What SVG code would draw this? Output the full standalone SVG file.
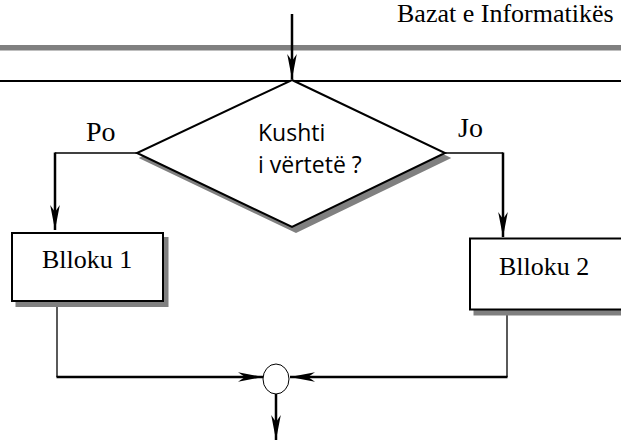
<svg xmlns="http://www.w3.org/2000/svg" width="621" height="441" viewBox="0 0 621 441">
  <style>
    .serif { font-family: "Liberation Serif", "Times New Roman", serif; fill: #000; }
    .sans { font-family: "Open Sans", "Liberation Sans", sans-serif; fill: #000; }
    .shape { fill: #fff; stroke: #000; stroke-width: 2; }
    .shadow { fill: #808080; stroke: #808080; stroke-width: 2; }
    .thick { stroke: #000; stroke-width: 2.5; fill: none; }
    .thin { stroke: #000; stroke-width: 1.3; fill: none; }
  </style>
  <defs>
    <marker id="arrow" markerUnits="userSpaceOnUse" viewBox="-27 -6 28 12" refX="0" refY="0" markerWidth="28" markerHeight="12" orient="auto">
      <path d="M0,0 L-25,-4.8 L-18,0 L-25,4.8 Z" fill="#000"/>
    </marker>
  </defs>
  <rect width="621" height="441" fill="#fff"/>

  <g id="header">
    <text class="serif" x="397" y="22" font-size="26">Bazat e Informatikës</text>
    <rect x="0" y="45" width="621" height="5.5" fill="#808080"/>
    <rect x="0" y="80" width="621" height="2" fill="#000"/>
  </g>

  <g id="connectors">
    <line class="thick" x1="292" y1="14" x2="292" y2="79" marker-end="url(#arrow)"/>
    <line class="thin" x1="137" y1="153" x2="55" y2="153"/>
    <line class="thick" x1="55" y1="152.5" x2="55" y2="230" marker-end="url(#arrow)"/>
    <line class="thin" x1="445" y1="153" x2="503" y2="153"/>
    <line class="thick" x1="503" y1="152.5" x2="503" y2="237" marker-end="url(#arrow)"/>
    <line class="thin" x1="57" y1="302" x2="57" y2="377"/>
    <line class="thick" x1="56.5" y1="377" x2="263" y2="377" marker-end="url(#arrow)"/>
    <line class="thin" x1="507" y1="311" x2="507" y2="377"/>
    <line class="thick" x1="507.5" y1="377" x2="290" y2="377" marker-end="url(#arrow)"/>
    <line class="thick" x1="276" y1="394" x2="276" y2="440" marker-end="url(#arrow)"/>
  </g>

  <g id="decision">
    <polygon class="shadow" points="296,85 449,158 296,232 141,158"/>
    <polygon class="shape" points="292,80 445,153 292,227 137,153"/>
    <text class="sans" x="258" y="141" font-size="23">Kushti</text>
    <text class="sans" x="258" y="173" font-size="23">i vërtetë ?</text>
  </g>

  <g id="label-po">
    <text class="serif" x="86" y="141" font-size="28">Po</text>
  </g>
  <g id="label-jo">
    <text class="serif" x="458" y="137" font-size="28">Jo</text>
  </g>

  <g id="blloku1">
    <rect class="shadow" x="16.5" y="238" width="151" height="68"/>
    <rect class="shape" x="12" y="233" width="151" height="68"/>
    <text class="serif" x="42" y="268" font-size="26">Blloku 1</text>
  </g>

  <g id="blloku2">
    <rect class="shadow" x="474.5" y="243.5" width="152" height="71"/>
    <rect class="shape" x="470" y="238.5" width="152" height="71"/>
    <text class="serif" x="499" y="275" font-size="26">Blloku 2</text>
  </g>

  <g id="junction">
    <ellipse cx="276" cy="379" rx="13" ry="15" fill="#fff" stroke="#000" stroke-width="1"/>
  </g>
</svg>
